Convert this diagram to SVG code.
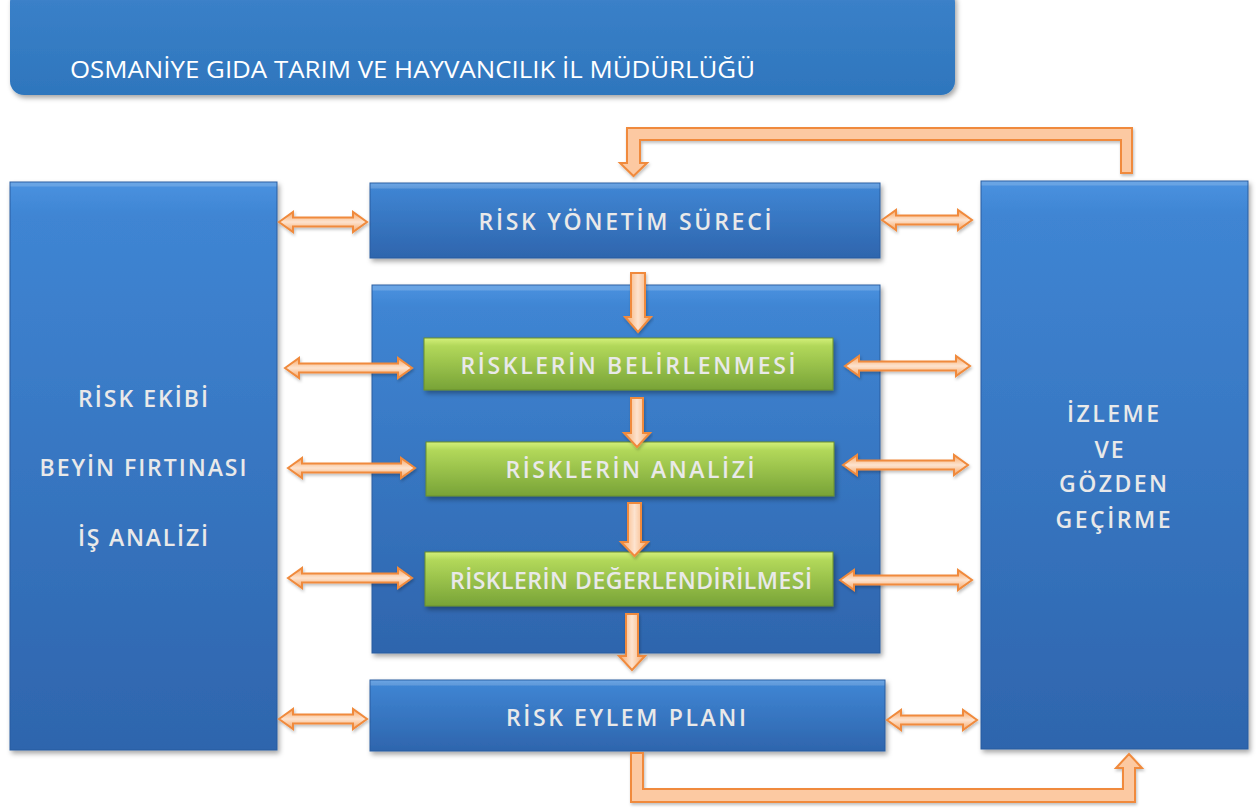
<svg xmlns="http://www.w3.org/2000/svg" width="1258" height="812" viewBox="0 0 1258 812">
<defs>
<linearGradient id="gBlue" x1="0" y1="0" x2="0" y2="1">
<stop offset="0" stop-color="#4a92e0"/>
<stop offset="0.06" stop-color="#3f85d3"/>
<stop offset="1" stop-color="#2e65ad"/>
</linearGradient>
<linearGradient id="gGreen" x1="0" y1="0" x2="0" y2="1">
<stop offset="0" stop-color="#d4f07a"/>
<stop offset="0.15" stop-color="#b2d85a"/>
<stop offset="1" stop-color="#78a337"/>
</linearGradient>
<linearGradient id="gTitle" x1="0" y1="0" x2="0" y2="1">
<stop offset="0" stop-color="#78a8e4"/>
<stop offset="0.12" stop-color="#3a80c8"/>
<stop offset="1" stop-color="#2e76bd"/>
</linearGradient>
<linearGradient id="gArrH" x1="0" y1="0" x2="0" y2="1">
<stop offset="0" stop-color="#f7a766"/>
<stop offset="0.5" stop-color="#fde3cf"/>
<stop offset="1" stop-color="#f7a766"/>
</linearGradient>
<linearGradient id="gArrV" x1="0" y1="0" x2="1" y2="0">
<stop offset="0" stop-color="#f7a766"/>
<stop offset="0.5" stop-color="#fde3cf"/>
<stop offset="1" stop-color="#f7a766"/>
</linearGradient>
<filter id="sh" x="-10%" y="-10%" width="120%" height="130%">
<feDropShadow dx="2" dy="3" stdDeviation="2.5" flood-color="#000" flood-opacity="0.35"/>
</filter>
<filter id="ash" x="-10%" y="-30%" width="120%" height="160%">
<feDropShadow dx="1" dy="2" stdDeviation="1.5" flood-color="#000" flood-opacity="0.25"/>
</filter>
</defs>
<style>
.blue{fill:url(#gBlue);stroke:#2a5d9f;stroke-width:1;filter:url(#sh)}
.green{fill:url(#gGreen);stroke:#6a8f2e;stroke-width:1;filter:url(#sh)}
.hl{fill:#ffffff;opacity:0.18}
.lbl{font-family:"Open Sans","Noto Sans","DejaVu Sans",sans-serif;font-weight:600;font-size:23px;fill:#e9e9e9;text-anchor:middle}
.ttl{font-family:"Open Sans","Noto Sans","DejaVu Sans",sans-serif;font-weight:400;font-size:23px;fill:#ffffff}
.ah{fill:url(#gArrH);stroke:#f08a3c;stroke-width:2;stroke-linejoin:miter;filter:url(#ash)}
.av{fill:url(#gArrV);stroke:#f08a3c;stroke-width:2;stroke-linejoin:miter;filter:url(#ash)}
.loop{fill:#fcc9a2;stroke:#f08a3c;stroke-width:2;stroke-linejoin:miter;filter:url(#ash)}
</style>
<rect width="1258" height="812" fill="#ffffff"/>

<g id="title">
<rect x="10" y="-12" width="945" height="107" rx="14" fill="url(#gTitle)" filter="url(#sh)"/>
<text class="ttl" x="70" y="78" textLength="685" lengthAdjust="spacingAndGlyphs">OSMANİYE GIDA TARIM VE HAYVANCILIK İL MÜDÜRLÜĞÜ</text>
</g>

<g id="risk-ekibi">
<rect class="blue" x="10" y="182" width="267" height="568"/>
<rect class="hl" x="10.5" y="182.5" width="266" height="4"/>
<text class="lbl" x="143" y="407" textLength="130" lengthAdjust="spacing">RİSK EKİBİ</text>
<text class="lbl" x="143" y="476" textLength="207" lengthAdjust="spacing">BEYİN FIRTINASI</text>
<text class="lbl" x="143" y="546" textLength="130" lengthAdjust="spacing">İŞ ANALİZİ</text>
</g>

<g id="izleme">
<rect class="blue" x="981" y="181" width="267" height="568"/>
<rect class="hl" x="981.5" y="181.5" width="266" height="4"/>
<text class="lbl" x="1113" y="422" textLength="92" lengthAdjust="spacing">İZLEME</text>
<text class="lbl" x="1110" y="458" letter-spacing="2">VE</text>
<text class="lbl" x="1113" y="492" textLength="108" lengthAdjust="spacing">GÖZDEN</text>
<text class="lbl" x="1113" y="528" textLength="115" lengthAdjust="spacing">GEÇİRME</text>
</g>

<g id="risk-yonetim-sureci">
<rect class="blue" x="370" y="183" width="510" height="75"/>
<rect class="hl" x="370.5" y="183.5" width="509" height="5"/>
<text class="lbl" x="625" y="230" textLength="293" lengthAdjust="spacing">RİSK YÖNETİM SÜRECİ</text>
</g>

<g id="surec-alani">
<rect class="blue" x="372" y="285" width="508" height="368"/>
<rect class="hl" x="372.5" y="285.5" width="507" height="5"/>
</g>

<g id="risklerin-belirlenmesi">
<rect class="green" x="424" y="338" width="409" height="52"/>
<text class="lbl" x="628" y="374" textLength="335" lengthAdjust="spacing">RİSKLERİN BELİRLENMESİ</text>
</g>

<g id="risklerin-analizi">
<rect class="green" x="426" y="442" width="408" height="54"/>
<text class="lbl" x="630" y="478" textLength="249" lengthAdjust="spacing">RİSKLERİN ANALİZİ</text>
</g>

<g id="risklerin-degerlendirilmesi">
<rect class="green" x="425" y="552" width="408" height="54"/>
<text class="lbl" x="631" y="589" textLength="362" lengthAdjust="spacing">RİSKLERİN DEĞERLENDİRİLMESİ</text>
</g>

<g id="risk-eylem-plani">
<rect class="blue" x="370" y="680" width="515" height="71"/>
<rect class="hl" x="370.5" y="680.5" width="514" height="5"/>
<text class="lbl" x="626" y="726" textLength="240" lengthAdjust="spacing">RİSK EYLEM PLANI</text>
</g>

<g id="connectors">
<polygon class="ah" points="279,222 293,212 293,217.5 353,217.5 353,212 367,222 353,232 353,226.5 293,226.5 293,232"/>
<polygon class="ah" points="285,368 299,358 299,363.5 398,363.5 398,358 412,368 398,378 398,372.5 299,372.5 299,378"/>
<polygon class="ah" points="288,468 302,458 302,463.5 401,463.5 401,458 415,468 401,478 401,472.5 302,472.5 302,478"/>
<polygon class="ah" points="288,578 302,568 302,573.5 398,573.5 398,568 412,578 398,588 398,582.5 302,582.5 302,588"/>
<polygon class="ah" points="279,719 293,709 293,714.5 353,714.5 353,709 367,719 353,729 353,723.5 293,723.5 293,729"/>
<polygon class="ah" points="882,220 896,210 896,215.5 958,215.5 958,210 972,220 958,230 958,224.5 896,224.5 896,230"/>
<polygon class="ah" points="845,366 859,356 859,361.5 956,361.5 956,356 970,366 956,376 956,370.5 859,370.5 859,376"/>
<polygon class="ah" points="843,465 857,455 857,460.5 954,460.5 954,455 968,465 954,475 954,469.5 857,469.5 857,475"/>
<polygon class="ah" points="840,580 854,570 854,575.5 958,575.5 958,570 972,580 958,590 958,584.5 854,584.5 854,590"/>
<polygon class="ah" points="887,720 901,710 901,715.5 963,715.5 963,710 977,720 963,730 963,724.5 901,724.5 901,730"/>
<polygon class="av" points="631,273 645,273 645,317 651,317 638,332 625,317 631,317"/>
<polygon class="av" points="631,398 643,398 643,433 650,433 637,447 624,433 631,433"/>
<polygon class="av" points="628,503 641,503 641,542 648,542 634.5,556 621,542 628,542"/>
<polygon class="av" points="626,614 638,614 638,656 645,656 632,670 619,656 626,656"/>
<polygon class="loop" points="1132,128 1132,173 1121,173 1121,140 640,140 640,163 647,163 633.5,176 620,163 627,163 627,128"/>
<polygon class="loop" points="631,753 643,753 643,789 1123,789 1123,768 1116,768 1129,754 1142,768 1135,768 1135,802 631,802"/>
</g>
</svg>
